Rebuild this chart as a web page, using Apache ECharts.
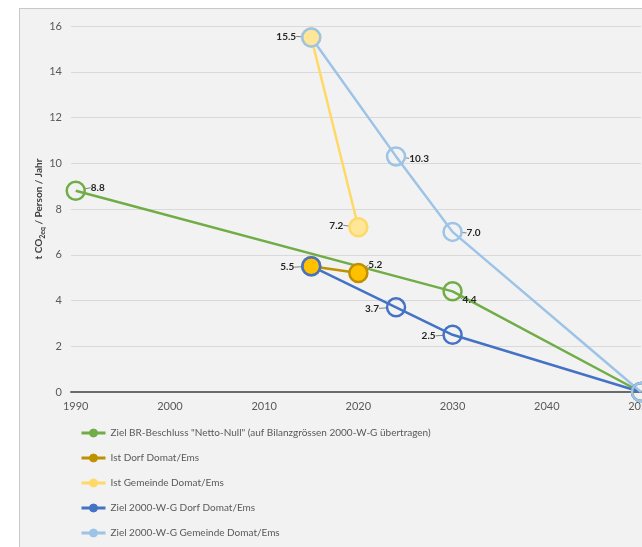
<!DOCTYPE html>
<html>
<head>
<meta charset="utf-8">
<script src="https://cdn.jsdelivr.net/npm/echarts@6/dist/echarts.min.js"></script>
<style>
  html, body { margin: 0; padding: 0; background: #ffffff; overflow: hidden; }
  #panel { position: absolute; left: 19px; top: 8px; width: 700px; height: 600px;
           background: #f2f2f2; border-left: 1px solid #c8c8c8; border-top: 1px solid #c8c8c8; }
  #chart { position: absolute; left: 0; top: 0; width: 642px; height: 547px; }
</style>
</head>
<body>
<div id="panel"></div>
<div id="chart"></div>
<script>
// Emissions per person (t CO2eq / Person / Jahr)
const zielBrYears = [1990, 2030, 2050];
const zielBrValues = [8.8, 4.4, 0];

const istDorfYears = [2015, 2020];
const istDorfValues = [5.5, 5.2];

const istGemeindeYears = [2015, 2020];
const istGemeindeValues = [15.5, 7.2];

const zielDorfYears = [2015, 2024, 2030, 2050];
const zielDorfValues = [5.5, 3.7, 2.5, 0];

const zielGemeindeYears = [2015, 2024, 2030, 2050];
const zielGemeindeValues = [15.5, 10.3, 7.0, 0];

const xTickLabels = [1990, 2000, 2010, 2020, 2030, 2040, 2050];
const yTickLabels = [0, 2, 4, 6, 8, 10, 12, 14, 16];

const seriesNames = [
  'Ziel BR-Beschluss "Netto-Null" (auf Bilanzgrössen 2000-W-G übertragen)',
  'Ist Dorf Domat/Ems',
  'Ist Gemeinde Domat/Ems',
  'Ziel 2000-W-G Dorf Domat/Ems',
  'Ziel 2000-W-G Gemeinde Domat/Ems'
];

// which points carry a value label, and where the label sits relative to its point
const labelOffsets = [
  [[22, -3], [17, 8], null],
  [[-24, 1], [17, -8]],
  [[-25, -1], [-22, -2]],
  [null, [-24, 1], [-24, 1], null],
  [null, [23, 2], [21, 1], null]
];

const lineColors = ['#70ad47', '#bf9000', '#ffd966', '#4472c4', '#9dc3e6'];
const markerFills = ['transparent', '#ffc000', '#ffe699', 'transparent', 'transparent'];
const legendFills = ['#70ad47', '#bf9000', '#ffd966', '#4472c4', '#9dc3e6'];

const FONT = 'Lato';

function pairs(xs, ys) { return xs.map((x, i) => [x, ys[i]]); }

const seriesData = [
  pairs(zielBrYears, zielBrValues),
  pairs(istDorfYears, istDorfValues),
  pairs(istGemeindeYears, istGemeindeValues),
  pairs(zielDorfYears, zielDorfValues),
  pairs(zielGemeindeYears, zielGemeindeValues)
];

const series = seriesData.map((data, s) => ({
  name: seriesNames[s],
  type: 'line',
  data: data.map((p, i) => ({
    value: p,
    label: { show: !!labelOffsets[s][i] }
  })),
  symbol: 'circle',
  symbolSize: 18,
  lineStyle: { color: lineColors[s], width: 2.5 },
  itemStyle: { color: markerFills[s], borderColor: lineColors[s], borderWidth: 2.5 },
  label: {
    position: 'inside',
    formatter: (p) => p.value[1].toFixed(1),
    color: '#262626',
    fontFamily: FONT,
    fontWeight: 'bold',
    fontSize: 10
  },
  labelLine: { show: true, lineStyle: { color: '#808080', width: 1 } },
  labelLayout: (params) => {
    const off = labelOffsets[params.seriesIndex][params.dataIndex];
    return off ? { dx: off[0], dy: off[1] } : {};
  },
  emphasis: { disabled: true },
  animation: false
}));

const chart = echarts.init(document.getElementById('chart'), null, { renderer: 'canvas' });
chart.setOption({
  backgroundColor: 'transparent',
  animation: false,
  grid: { left: 71, right: 1, top: 26, bottom: 155, containLabel: false, outerBoundsMode: 'none' },
  xAxis: {
    type: 'value',
    min: 1989.5,
    max: 2050,
    splitLine: { show: false },
    axisLine: { show: true, onZero: true, lineStyle: { color: '#6b6b6b', width: 2 } },
    axisTick: { show: false },
    axisLabel: {
      customValues: xTickLabels,
      formatter: (v) => String(v),
      hideOverlap: false,
      color: '#595959', fontFamily: FONT, fontSize: 11, margin: 9
    }
  },
  yAxis: {
    type: 'value',
    min: 0,
    max: 16,
    interval: 2,
    axisLine: { show: false },
    axisTick: { show: false },
    axisLabel: {
      customValues: yTickLabels,
      color: '#595959', fontFamily: FONT, fontSize: 11, margin: 9
    },
    splitLine: { lineStyle: { color: '#d9d9d9', width: 1 } },
    name: '{n|t CO}{s|2eq}{n| / Person / Jahr}',
    nameLocation: 'middle',
    nameGap: 25,
    nameMoveOverlap: false,
    nameRotate: 90,
    nameTextStyle: {
      rich: {
        n: { fontFamily: FONT, fontWeight: 'bold', fontSize: 10, color: '#404040', lineHeight: 14 },
        s: { fontFamily: FONT, fontWeight: 'bold', fontSize: 7, color: '#404040', verticalAlign: 'bottom', lineHeight: 14, padding: [4, 0, 0, 0] }
      }
    }
  },
  legend: {
    orient: 'vertical',
    left: 80,
    top: 426,
    padding: 0,
    itemWidth: 24,
    itemHeight: 10,
    itemGap: 11,
    selectedMode: false,
    textStyle: { color: '#595959', fontFamily: FONT, fontSize: 10, lineHeight: 14 },
    data: seriesNames.map((n, s) => ({
      name: n,
      itemStyle: { color: legendFills[s], borderColor: lineColors[s], borderWidth: 1 },
      lineStyle: { color: lineColors[s], width: 3 }
    }))
  },
  series: series
});
</script>
</body>
</html>
